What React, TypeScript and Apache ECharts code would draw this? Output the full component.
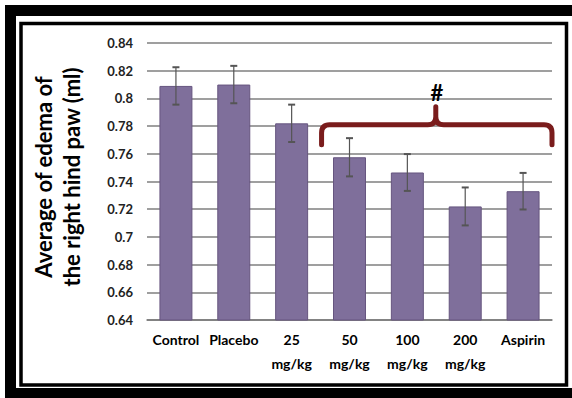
import React, { useEffect, useRef } from "react";
import * as echarts from "echarts";

const categories = ["Control", "Placebo", "25\nmg/kg", "50\nmg/kg", "100\nmg/kg", "200\nmg/kg", "Aspirin"];
const means = [0.809, 0.81, 0.782, 0.7575, 0.7465, 0.722, 0.733];
const errors = [0.0135, 0.0135, 0.0135, 0.0138, 0.0133, 0.0137, 0.0132];
const yTitle = "Average of edema of\nthe right hind paw (ml)";
const markText = "#";

const FONT = "Lato, 'Open Sans', sans-serif";

export default function App() {
  const ref = useRef<HTMLDivElement>(null);
  useEffect(() => {
    const chart = echarts.init(ref.current!, null, { renderer: "svg" });
    const option: any = {
      animation: false,
      backgroundColor: "#ffffff",
      grid: { left: 147, right: 20, top: 43, bottom: 78 },
      xAxis: {
        type: "category",
        data: categories,
        axisTick: { show: false },
        axisLine: { lineStyle: { color: "#7a7a7a", width: 1.5 } },
        axisLabel: {
          color: "#000",
          fontFamily: FONT,
          fontWeight: "bold",
          fontSize: 14,
          lineHeight: 24,
          margin: 7,
          interval: 0,
        },
      },
      yAxis: {
        type: "value",
        min: 0.64,
        max: 0.84,
        interval: 0.02,
        axisLine: { show: false },
        axisTick: { show: false },
        splitLine: { lineStyle: { color: "#7f7f7f", width: 1.5 } },
        axisLabel: {
          color: "#222",
          fontFamily: FONT,
          fontWeight: "bold",
          fontSize: 13,
          margin: 14,
          formatter: (v: number) => String(+v.toFixed(2)),
        },
      },
      series: [
        {
          type: "bar",
          data: means,
          barWidth: "57%",
          itemStyle: { color: "#7f6f9b", borderColor: "#66557f", borderWidth: 1 },
        },
        {
          type: "custom",
          data: means.map((m, i) => [i, m - errors[i], m + errors[i]]),
          z: 10,
          renderItem: (params: any, api: any) => {
            const lo = api.coord([api.value(0), api.value(1)]);
            const hi = api.coord([api.value(0), api.value(2)]);
            const cap = 3.5;
            const st = { stroke: "#555", lineWidth: 1.2 };
            return {
              type: "group",
              children: [
                { type: "line", shape: { x1: hi[0], y1: hi[1], x2: lo[0], y2: lo[1] }, style: st },
                { type: "line", shape: { x1: hi[0] - cap, y1: hi[1], x2: hi[0] + cap, y2: hi[1] }, style: { ...st, lineWidth: 2 } },
                { type: "line", shape: { x1: lo[0] - cap, y1: lo[1], x2: lo[0] + cap, y2: lo[1] }, style: { ...st, lineWidth: 2 } },
              ],
            };
          },
        },
      ],
    };
    chart.setOption(option);

    const c3 = chart.convertToPixel({ xAxisIndex: 0, yAxisIndex: 0 }, [3, 0.781]);
    const c4 = chart.convertToPixel({ xAxisIndex: 0, yAxisIndex: 0 }, [4, 0.781]);
    const c6 = chart.convertToPixel({ xAxisIndex: 0, yAxisIndex: 0 }, [6, 0.781]);
    const band = c4[0] - c3[0];
    const L = c3[0] - band / 2 + 1;
    const R = c6[0] + band / 2;
    const Y = c3[1];
    const B = chart.convertToPixel({ yAxisIndex: 0 }, 0.7665) as number;
    const P = chart.convertToPixel({ yAxisIndex: 0 }, 0.794) as number;
    const C = (L + R) / 2 - 1;
    const r = 8;
    const d =
      `M${L} ${B} L${L} ${Y + r} Q${L} ${Y} ${L + r} ${Y} L${C - r} ${Y} Q${C} ${Y} ${C} ${Y - r} L${C} ${P} ` +
      `L${C} ${Y - r} Q${C} ${Y} ${C + r} ${Y} L${R - r} ${Y} Q${R} ${Y} ${R} ${Y + r} L${R} ${B}`;
    echarts.graphic.registerShape("brace", echarts.graphic.extendPath(d, {}) as any);
    const hashY = chart.convertToPixel({ yAxisIndex: 0 }, 0.804) as number;

    chart.setOption({
      graphic: [
        {
          type: "rect",
          shape: { x: 10.5, y: 10.5, width: 600, height: 383 },
          style: { fill: "none", stroke: "#000", lineWidth: 11 },
          silent: true,
        },
        {
          type: "rect",
          shape: { x: 21, y: 23.5, width: 545.5, height: 361.5 },
          style: { fill: "none", stroke: "#000", lineWidth: 3.5 },
          silent: true,
        },
        {
          type: "text",
          x: 57,
          y: 177,
          rotation: Math.PI / 2,
          style: {
            text: yTitle,
            fontFamily: FONT,
            fontWeight: "bold",
            fontSize: 22,
            lineHeight: 28,
            fill: "#000",
            textAlign: "center",
            textVerticalAlign: "middle",
          },
        },
        {
          type: "brace",
          x: 0,
          y: 0,
          style: { fill: "none", stroke: "#7a1c1c", lineWidth: 5, lineJoin: "round", lineCap: "round" },
        },
        {
          type: "text",
          x: C + 1,
          y: hashY,
          style: {
            text: markText,
            fontFamily: FONT,
            fontWeight: "bold",
            fontSize: 22,
            fill: "#000",
            textAlign: "center",
            textVerticalAlign: "middle",
          },
        },
      ],
    });
    return () => chart.dispose();
  }, []);
  return (
    <div
      ref={ref}
      style={{ position: "absolute", left: 0, top: 0, width: 572, height: 398 }}
    />
  );
}
